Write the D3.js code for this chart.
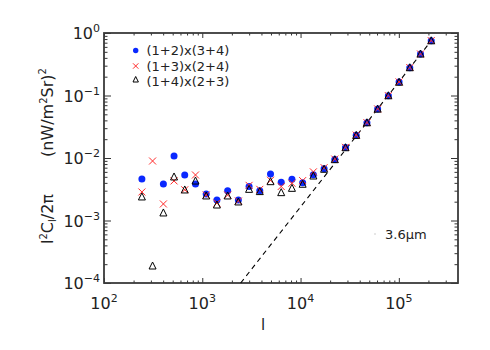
<!DOCTYPE html>
<html>
<head>
    <title>l2Cl</title>
    <script src="https://d3js.org/d3.v7.min.js"></script>
    <style>
        body { margin: 0; background: #fff; }
        text { font-family: "DejaVu Sans", sans-serif; fill: #222; }
    </style>
</head>
<body>
<script>
    var w = 490;
    var h = 350;

    // multipole bins
    var ell = [243, 312, 402, 516, 663, 853, 1096, 1409, 1812, 2329, 2994, 3848, 4946, 6357,
               8173, 10500, 13500, 17360, 22310, 28670, 36860, 47370, 60880, 78260,
               100600, 129300, 166200, 213600];
    // (1+2)x(3+4)
    var blue = [4.6e-3, null, 3.85e-3, 1.08e-2, 5.35e-3, 3.85e-3, 2.65e-3, 2.13e-3, 3.0e-3, 2.13e-3,
                3.5e-3, 3.0e-3, 5.55e-3, 4.1e-3, 4.55e-3, 4.0e-3, 5.4e-3, 6.7e-3, 9.5e-3, 1.47e-2,
                2.31e-2, 3.67e-2, 6.08e-2, 9.9e-2, 0.164, 0.279, 0.461, 0.753];
    // (1+3)x(2+4)
    var red = [2.86e-3, 8.95e-3, 1.84e-3, 4.3e-3, 3.1e-3, 5.35e-3, 2.56e-3, 1.9e-3, 2.56e-3, 2.05e-3,
               3.65e-3, 3.15e-3, 4.4e-3, 3.5e-3, 3.95e-3, 4.35e-3, 6.0e-3, 7.0e-3, 9.6e-3, 1.48e-2,
               2.32e-2, 3.68e-2, 6.1e-2, 9.95e-2, 0.165, 0.28, 0.462, 0.755];
    // (1+4)x(2+3)
    var tri = [2.38e-3, 1.87e-4, 1.32e-3, 4.97e-3, 3.08e-3, 4.28e-3, 2.47e-3, 1.77e-3, 2.47e-3, 1.98e-3,
               3.15e-3, 2.9e-3, 4.18e-3, 2.79e-3, 3.27e-3, 3.8e-3, 5.15e-3, 6.6e-3, 9.4e-3, 1.46e-2,
               2.3e-2, 3.66e-2, 6.05e-2, 9.9e-2, 0.163, 0.278, 0.46, 0.75];
    // shot noise line ~ l^2
    var shotLine = [[2460, 1e-4], [235000, 0.91]];

    var seriesNames = ["(1+2)x(3+4)", "(1+3)x(2+4)", "(1+4)x(2+3)"];
    var xMajor = [1e2, 1e3, 1e4, 1e5];
    var xExp = ["2", "3", "4", "5"];
    var yMajor = [1, 1e-1, 1e-2, 1e-3, 1e-4];
    var yExp = ["0", "\u22121", "\u22122", "\u22123", "\u22124"];

    var x = d3.scaleLog().domain([100, 4e5]).range([104, 458]);
    var y = d3.scaleLog().domain([1e-4, 1]).range([283, 33]);

    function minors(lo, hi) {
        var out = [];
        for (var e = Math.floor(Math.log10(lo)); e <= Math.ceil(Math.log10(hi)); e++) {
            for (var k = 2; k <= 9; k++) {
                var v = k * Math.pow(10, e);
                if (v > lo && v < hi) out.push(v);
            }
        }
        return out;
    }
    var xMinor = minors(100, 4e5);
    var yMinor = minors(1e-4, 1);

    var svg = d3.select("body").append("svg")
                .attr("width", w)
                .attr("height", h);

    //axes with inward ticks on all four sides
    function drawAxis(axis, tx, ty) {
        var g = svg.append("g").attr("transform", "translate(" + tx + "," + ty + ")").call(axis);
        g.select(".domain").remove();
        g.selectAll("line").attr("stroke", "#333").attr("stroke-width", 1);
        g.selectAll("text").remove();
    }
    drawAxis(d3.axisBottom(x).tickValues(xMajor).tickSize(-5), 0, 283);
    drawAxis(d3.axisBottom(x).tickValues(xMinor).tickSize(-2.5), 0, 283);
    drawAxis(d3.axisTop(x).tickValues(xMajor).tickSize(-5), 0, 33);
    drawAxis(d3.axisTop(x).tickValues(xMinor).tickSize(-2.5), 0, 33);
    drawAxis(d3.axisLeft(y).tickValues(yMajor).tickSize(-7), 104, 0);
    drawAxis(d3.axisLeft(y).tickValues(yMinor).tickSize(-3.5), 104, 0);
    drawAxis(d3.axisRight(y).tickValues(yMajor).tickSize(-7), 458, 0);
    drawAxis(d3.axisRight(y).tickValues(yMinor).tickSize(-3.5), 458, 0);

    svg.append("rect")
       .attr("x", 104).attr("y", 33)
       .attr("width", 354).attr("height", 250)
       .attr("fill", "none")
       .attr("stroke", "#3a3a3a")
       .attr("stroke-width", 1.8);

    //tick labels
    var xl = svg.selectAll(".xl").data(xMajor).enter().append("text")
                .attr("x", function(d){ return x(d); })
                .attr("y", 309)
                .attr("text-anchor", "middle")
                .attr("font-size", "16px");
    xl.append("tspan").text("10");
    xl.append("tspan").attr("dy", -7).attr("font-size", "11px")
      .text(function(d, i){ return xExp[i]; });

    var yl = svg.selectAll(".yl").data(yMajor).enter().append("text")
                .attr("x", 100)
                .attr("y", function(d){ return y(d) + 6; })
                .attr("text-anchor", "end")
                .attr("font-size", "16px");
    yl.append("tspan").text("10");
    yl.append("tspan").attr("dy", -7).attr("font-size", "11px")
      .text(function(d, i){ return yExp[i]; });

    //axis titles
    svg.append("text").attr("x", 263).attr("y", 330)
       .attr("text-anchor", "middle").attr("font-size", "15px").text("l");

    var t1 = svg.append("text").attr("transform", "translate(53,244) rotate(-90)")
                .attr("font-size", "16px");
    t1.append("tspan").text("l");
    t1.append("tspan").attr("dy", -6).attr("font-size", "10px").text("2");
    t1.append("tspan").attr("dy", 6).text("C");
    t1.append("tspan").attr("dy", 3).attr("font-size", "10px").text("l");
    t1.append("tspan").attr("dy", -3).text("/2\u03c0");

    var t2 = svg.append("text").attr("transform", "translate(53,157) rotate(-90)")
                .attr("font-size", "16px");
    t2.append("tspan").text("(nW/m");
    t2.append("tspan").attr("dy", -6).attr("font-size", "10px").text("2");
    t2.append("tspan").attr("dy", 6).text("Sr)");
    t2.append("tspan").attr("dy", -7).attr("font-size", "10px").text("2");

    //shot noise dashed line
    var line = d3.line()
                 .x(function(d){ return x(d[0]); })
                 .y(function(d){ return y(d[1]); });
    svg.append("path")
       .datum(shotLine)
       .attr("d", line)
       .attr("fill", "none")
       .attr("stroke", "#000")
       .attr("stroke-width", 1.1)
       .attr("stroke-dasharray", "5,4");

    //data points
    var bluePts = ell.map(function(l, i){ return [l, blue[i]]; }).filter(function(d){ return d[1] != null; });
    var redPts = ell.map(function(l, i){ return [l, red[i]]; });
    var triPts = ell.map(function(l, i){ return [l, tri[i]]; });

    svg.selectAll(".dot").data(bluePts).enter().append("circle")
       .attr("cx", function(d){ return x(d[0]); })
       .attr("cy", function(d){ return y(d[1]); })
       .attr("r", 3.5)
       .attr("fill", "#0a28ff");

    var cross = "M-3.5,-3.5L3.5,3.5M-3.5,3.5L3.5,-3.5";
    svg.selectAll(".cross").data(redPts).enter().append("path")
       .attr("transform", function(d){ return "translate(" + x(d[0]) + "," + y(d[1]) + ")"; })
       .attr("d", cross)
       .attr("stroke", "#ff2a2a")
       .attr("stroke-width", 1)
       .attr("fill", "none");

    var triangle = "M0,-4L3.5,3L-3.5,3Z";
    svg.selectAll(".tri").data(triPts).enter().append("path")
       .attr("transform", function(d){ return "translate(" + x(d[0]) + "," + y(d[1]) + ")"; })
       .attr("d", triangle)
       .attr("stroke", "#000")
       .attr("stroke-width", 1)
       .attr("fill", "none");

    //legend
    var legY = [50.5, 66, 81.5];
    svg.append("circle").attr("cx", 135.7).attr("cy", legY[0]).attr("r", 2.7).attr("fill", "#0a28ff");
    svg.append("path").attr("transform", "translate(135.7," + legY[1] + ")")
       .attr("d", "M-2.7,-2.7L2.7,2.7M-2.7,2.7L2.7,-2.7")
       .attr("stroke", "#ff2a2a").attr("stroke-width", 1).attr("fill", "none");
    svg.append("path").attr("transform", "translate(135.7," + (legY[2] - 2) + ")")
       .attr("d", "M0,-3L2.7,2.5L-2.7,2.5Z")
       .attr("stroke", "#000").attr("stroke-width", 1).attr("fill", "none");
    svg.selectAll(".leg").data(seriesNames).enter().append("text")
       .attr("x", 146.5)
       .attr("y", function(d, i){ return legY[i] + 4.5; })
       .attr("font-size", "13px")
       .text(function(d){ return d; });

    //band label
    svg.append("circle").attr("cx", 375).attr("cy", 234).attr("r", 0.7).attr("fill", "#bbb");
    svg.append("text").attr("x", 385).attr("y", 238.5)
       .attr("font-size", "13px").text("3.6\u03bcm");
</script>
</body>
</html>
